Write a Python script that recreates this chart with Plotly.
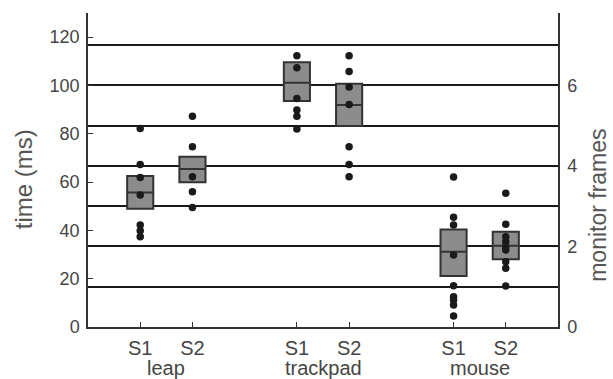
import plotly.graph_objects as go

# ---- data ----
groups = ["leap", "trackpad", "mouse"]
conds = ["S1", "S2", "S1", "S2", "S1", "S2"]
positions = [1, 2, 4, 5, 7, 8]
group_centers = [1.5, 4.5, 7.5]

leap_s1 = [82.2, 67.3, 61.9, 54.6, 42.2, 39.8, 37.4]
leap_s2 = [87.3, 74.6, 62.2, 56.0, 49.5]
track_s1 = [112.3, 107.3, 94.6, 89.8, 87.3, 82.0]
track_s2 = [112.3, 105.8, 99.4, 92.1, 74.6, 67.3, 62.2]
mouse_s1 = [62.1, 45.4, 42.2, 29.8, 17.1, 12.5, 11.2, 9.1, 4.6]
mouse_s2 = [55.4, 42.5, 37.4, 35.3, 33.2, 31.9, 27.0, 24.3, 17.0]
points = [leap_s1, leap_s2, track_s1, track_s2, mouse_s1, mouse_s2]

box_low = [49.0, 59.9, 93.6, 83.2, 21.1, 28.0]
box_mid = [55.7, 65.4, 101.1, 91.9, 31.2, 33.6]
box_high = [62.5, 70.5, 109.6, 100.7, 40.4, 39.4]

frame_ms = 1000 / 60
y_max = 130
frame_ticks = [0, 1, 2, 3, 4, 5, 6, 7]
frame_labels = ["0", "", "2", "", "4", "", "6", ""]
time_ticks = [0, 20, 40, 60, 80, 100, 120]

text_col = "#454545"
title_col = "#555555"
axis_col = "#333333"
font_fam = "Liberation Sans, Arial, Helvetica, sans-serif"

fig = go.Figure()

# invisible trace to activate secondary axis (frames gridlines)
fig.add_trace(go.Scatter(x=[positions[0]], y=[0], yaxis="y2", mode="markers",
                         marker=dict(opacity=0), showlegend=False, hoverinfo="skip"))

fig.add_trace(go.Box(
    x=positions, q1=box_low, median=box_mid, q3=box_high,
    lowerfence=box_low, upperfence=box_high,
    fillcolor="#8c8c8c", line=dict(color=axis_col, width=2),
    width=0.5, boxpoints=False, showlegend=False, whiskerwidth=0,
))

for pos, vals in zip(positions, points):
    fig.add_trace(go.Scatter(
        x=[pos] * len(vals), y=vals, mode="markers",
        marker=dict(size=7.5, color="#1a1a1a"), showlegend=False,
    ))

for gx, gname in zip(group_centers, groups):
    fig.add_annotation(x=gx, xref="x", y=-0.088, yref="paper", yanchor="top",
                       text=gname, showarrow=False,
                       font=dict(size=20, color=text_col, family=font_fam))

# axis titles as annotations (positioned like the reference)
fig.add_annotation(x=-0.138, xref="paper", y=0.471, yref="paper",
                   xanchor="center", yanchor="middle", textangle=-90,
                   text="time (ms)", showarrow=False,
                   font=dict(size=24, color=title_col, family=font_fam))
fig.add_annotation(x=1.085, xref="paper", y=0.389, yref="paper",
                   xanchor="center", yanchor="middle", textangle=-90,
                   text="monitor frames", showarrow=False,
                   font=dict(size=23, color=title_col, family=font_fam))

fig.update_layout(
    width=613, height=379,
    margin=dict(l=88, r=55, t=13, b=52),
    plot_bgcolor="white", paper_bgcolor="white",
    font=dict(family=font_fam, color=text_col, size=14),
    xaxis=dict(range=[0, 9], tickvals=positions, ticktext=conds,
               showgrid=False, zeroline=False, showline=True,
               linecolor=axis_col, linewidth=1.5, ticks="inside",
               ticklen=5, tickcolor=axis_col, mirror=False,
               ticklabelstandoff=2,
               tickfont=dict(size=20, color=text_col)),
    yaxis=dict(range=[0, y_max], tickvals=time_ticks, showgrid=False,
               zeroline=False, showline=True, linecolor=axis_col,
               linewidth=1.5, ticks="inside", ticklen=5, tickcolor=axis_col,
               ticklabelstandoff=3,
               tickfont=dict(size=18, color=text_col)),
    yaxis2=dict(range=[0, y_max / frame_ms], overlaying="y", side="right",
                tickvals=frame_ticks, ticktext=frame_labels,
                showgrid=True, gridcolor="#1a1a1a", gridwidth=2,
                zeroline=False, showline=True, linecolor=axis_col,
                linewidth=1.5, ticks="", ticklabelstandoff=4,
                tickfont=dict(size=18, color=text_col)),
)

fig.write_html("out.html")
